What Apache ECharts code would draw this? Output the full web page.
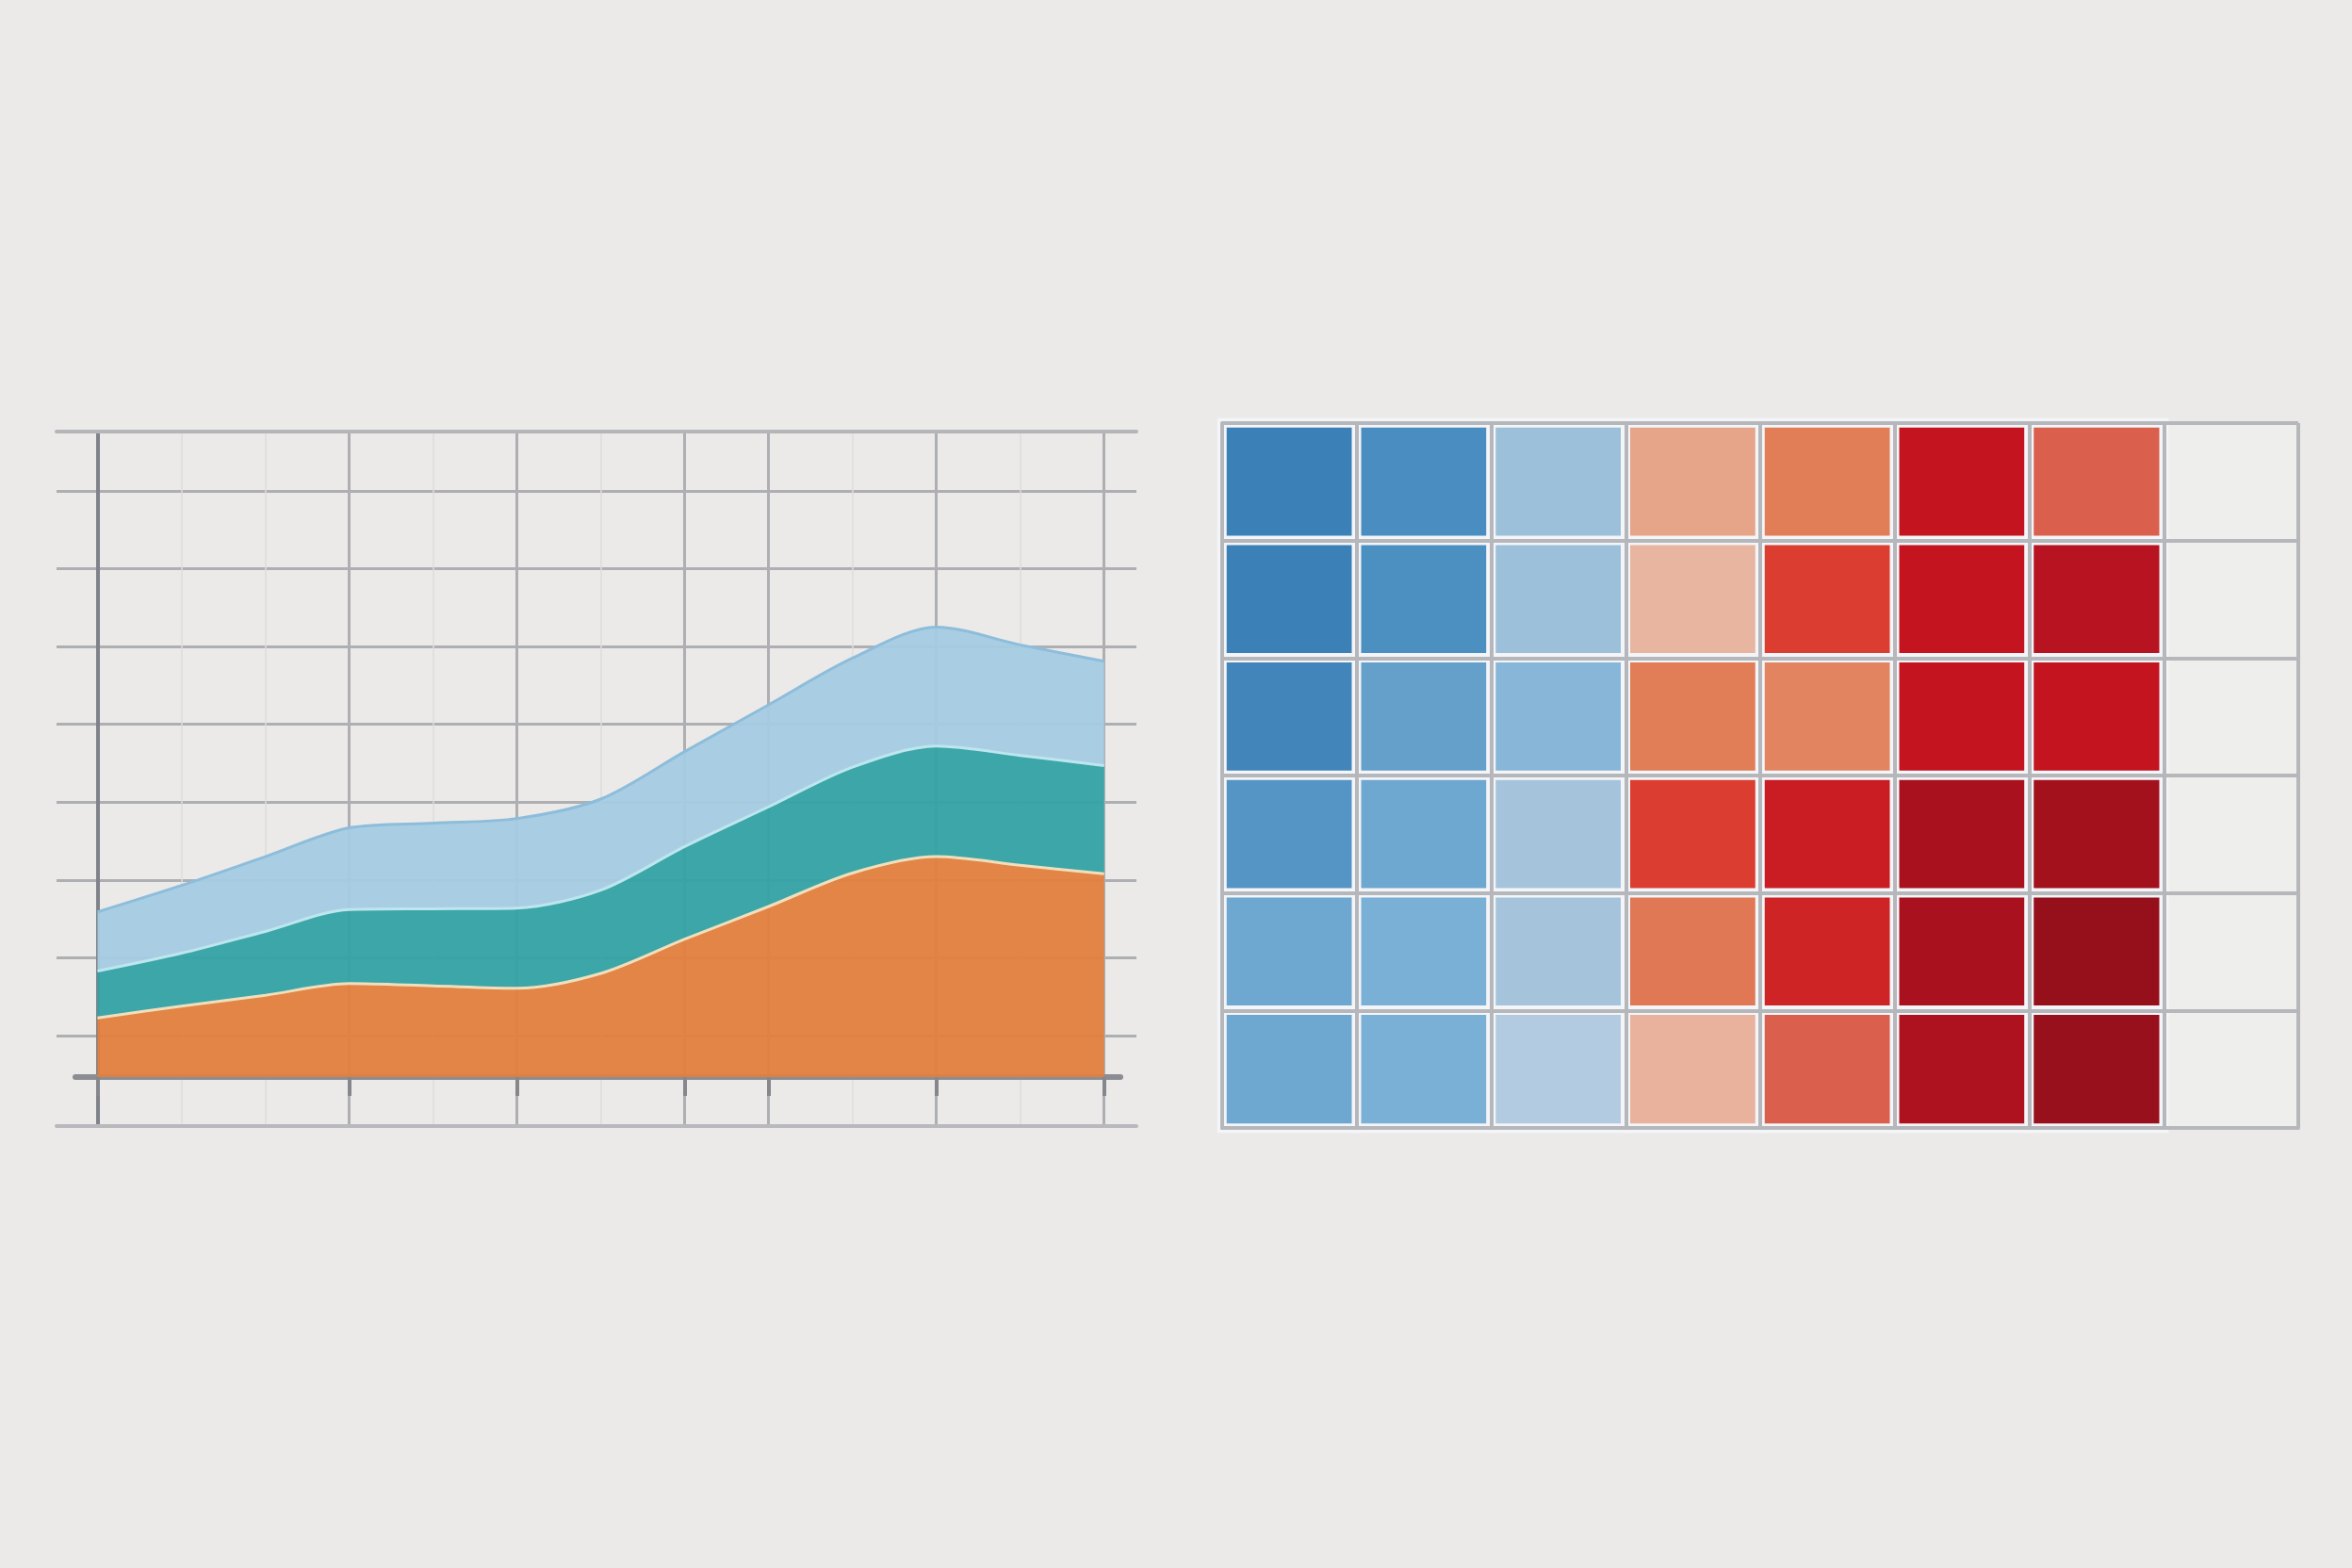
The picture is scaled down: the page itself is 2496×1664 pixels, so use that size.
<!DOCTYPE html>
<html>
<head>
<meta charset="utf-8">
<script src="https://cdn.jsdelivr.net/npm/echarts@6/dist/echarts.min.js"></script>
<style>
  html, body { margin: 0; padding: 0; background: #ebeae8; }
  #main { width: 2496px; height: 1664px; }
</style>
</head>
<body>
<div id="main"></div>
<script>
// left chart: x positions 0..12, stacked bands
const xSteps = ['0', '1', '2', '3', '4', '5', '6', '7', '8', '9', '10', '11', '12']
const majorSteps = [0, 3, 5, 7, 8, 10, 12]
const orangeBand = [7.6, 9.1, 10.5, 12.0, 11.7, 11.4, 13.3, 17.7, 21.9, 26.2, 28.3, 27.2, 26.1]
const tealBand = [6.0, 6.8, 8.2, 9.5, 9.9, 10.3, 10.7, 11.9, 12.8, 13.6, 14.2, 14.1, 13.9]
const blueBand = [7.6, 8.7, 9.6, 10.5, 11.0, 11.5, 11.7, 12.2, 13.1, 14.0, 15.3, 14.2, 13.4]

// right chart: 8 columns (last empty), 6 rows
const heatCols = ['c1', 'c2', 'c3', 'c4', 'c5', 'c6', 'c7', 'c8']
const heatRows = ['r1', 'r2', 'r3', 'r4', 'r5', 'r6']
const heatValues = [
  [10, 15, 40, 57, 65, 80, 70],
  [10, 16, 40, 51, 75, 80, 84],
  [12, 25, 37, 65, 64, 80, 80],
  [20, 30, 42, 75, 79, 90, 92],
  [30, 35, 42, 66, 78, 89, 98],
  [30, 35, 45, 52, 70, 87, 97]
]
const heatColors = ['#2a6faa', '#3479b2', '#3b80b6', '#4a8dc0', '#5495c5', '#64a0ca', '#6ea7d0',
  '#7bb0d6', '#9cc0da', '#b3cbe0', '#e8b7a3', '#e7ab92', '#e59a7c', '#e17e58', '#da5f4c',
  '#dc3d31', '#c4141f', '#b41320', '#a8111d', '#9c101c', '#92101c']

const heatData = []
heatValues.forEach((row, r) => {
  row.forEach((v, c) => heatData.push([c, r, v]))
})

const gray = '#aeafb3'
const hidden = {
  show: true,
  axisLine: { show: false },
  axisTick: { show: false },
  axisLabel: { show: false },
  splitLine: { show: false }
}

const chart = echarts.init(document.getElementById('main'))

const option = {
  backgroundColor: '#ebeae8',
  animation: false,
  grid: [
    // outer frame lines (top/bottom)
    { left: 60, right: 1290, top: 458, bottom: 469 },
    // horizontal grid lines
    { left: 60, right: 1290, top: 521, bottom: 565 },
    // baseline
    { left: 80, right: 1307, top: 458, bottom: 469 },
    // data
    { left: 103.5, right: 1324.3, top: 458, bottom: 469 },
    // heatmap
    { left: 1297, right: 57, top: 449, bottom: 467, show: true, backgroundColor: '#eeeeed', borderWidth: 0 }
  ],
  xAxis: [
    Object.assign({}, hidden, { gridIndex: 0, type: 'value', min: 0, max: 1, position: 'bottom',
      axisLine: { show: true, onZero: false, lineStyle: { color: '#b8b9bd', width: 4 } } }),
    Object.assign({}, hidden, { gridIndex: 0, type: 'value', min: 0, max: 1, position: 'top',
      axisLine: { show: true, onZero: false, lineStyle: { color: '#b4b5b9', width: 4 } } }),
    Object.assign({}, hidden, { gridIndex: 1, type: 'value', min: 0, max: 1 }),
    Object.assign({}, hidden, { gridIndex: 2, type: 'value', min: 0, max: 1, position: 'bottom', offset: -52,
      axisLine: { show: true, onZero: false, lineStyle: { color: '#8b8d93', width: 6 } } }),
    Object.assign({}, hidden, {
      gridIndex: 3, type: 'category', data: xSteps, boundaryGap: false, position: 'bottom', offset: -52,
      axisLine: { show: false, onZero: false },
      axisTick: { show: true, length: 20, interval: (i) => majorSteps.includes(i), lineStyle: { color: '#85878d', width: 4 } },
      splitLine: { show: true, interval: (i) => majorSteps.includes(i), lineStyle: { color: gray, width: 3 } }
    }),
    Object.assign({}, hidden, {
      gridIndex: 3, type: 'category', data: xSteps, boundaryGap: false, position: 'top',
      splitLine: { show: true, interval: (i) => !majorSteps.includes(i), lineStyle: { color: '#dcdcdd', width: 1.5 } }
    }),
    Object.assign({}, hidden, {
      gridIndex: 4, type: 'category', data: heatCols, z: 5,
      axisLine: { show: true, lineStyle: { color: '#b6b7bb', width: 4 } },
      splitLine: { show: true, lineStyle: { color: '#b6b7bb', width: 4 } }
    })
  ],
  yAxis: [
    Object.assign({}, hidden, { gridIndex: 0, type: 'value', min: 0, max: 1 }),
    Object.assign({}, hidden, { gridIndex: 1, type: 'value', min: 0, max: 70, interval: 10,
      splitLine: { show: true, lineStyle: { color: gray, width: 3 } } }),
    Object.assign({}, hidden, { gridIndex: 2, type: 'value', min: 0, max: 1 }),
    Object.assign({}, hidden, { gridIndex: 3, type: 'value', min: -6.3, max: 82.9,
      axisLine: { show: true, onZero: false, lineStyle: { color: '#7f828a', width: 4 } } }),
    Object.assign({}, hidden, {
      gridIndex: 4, type: 'category', data: heatRows, inverse: true, z: 5,
      axisLine: { show: true, lineStyle: { color: '#b6b7bb', width: 4 } },
      splitLine: { show: true, lineStyle: { color: '#b6b7bb', width: 4 } }
    })
  ],
  visualMap: {
    show: false,
    type: 'continuous',
    seriesIndex: 3,
    min: 0,
    max: 100,
    inRange: { color: heatColors }
  },
  series: [
    {
      name: 'orange', type: 'line', xAxisIndex: 4, yAxisIndex: 3, stack: 'total',
      smooth: 0.3, showSymbol: false, z: 4, data: orangeBand,
      lineStyle: { color: '#f1dfbb', width: 3 },
      areaStyle: { color: '#e27f3e', opacity: 0.95 }
    },
    {
      name: 'teal', type: 'line', xAxisIndex: 4, yAxisIndex: 3, stack: 'total',
      smooth: 0.3, showSymbol: false, z: 3, data: tealBand,
      lineStyle: { color: '#bde6ee', width: 3 },
      areaStyle: { color: '#33a2a4', opacity: 0.95 }
    },
    {
      name: 'blue', type: 'line', xAxisIndex: 4, yAxisIndex: 3, stack: 'total',
      smooth: 0.3, showSymbol: false, z: 2, data: blueBand,
      lineStyle: { color: '#8dbddb', width: 3 },
      areaStyle: { color: '#a5cce3', opacity: 0.95 }
    },
    {
      name: 'heat', type: 'heatmap', xAxisIndex: 6, yAxisIndex: 4, data: heatData,
      itemStyle: { borderColor: '#f3f5f8', borderWidth: 10 }
    }
  ]
}

chart.setOption(option)
</script>
</body>
</html>
